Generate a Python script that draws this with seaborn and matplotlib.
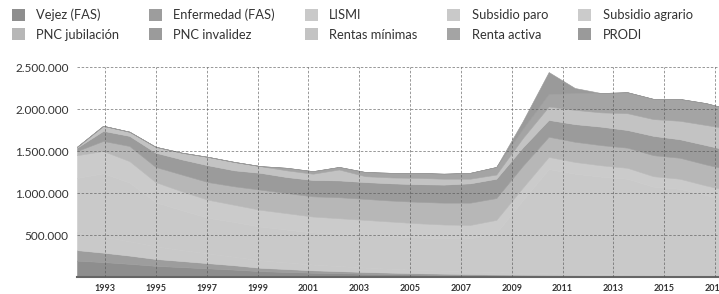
# Beneficiarios de prestaciones asistenciales 1992-2017 (area apilada)
import numpy as np
import pandas as pd
import matplotlib
matplotlib.use("Agg")
import matplotlib.pyplot as plt
import seaborn as sns
from matplotlib.patches import Patch
from matplotlib.ticker import FuncFormatter

# --------------------------------------------
# Datos (miles de beneficiarios)
# --------------------------------------------
years = list(range(1992, 2018))

vejez_fas = [195, 178, 157, 133, 118, 103, 88, 70, 60, 51, 45, 39, 34, 29, 26, 23, 20, 18, 16, 14, 12, 11, 9, 8, 7, 6]
enfermedad_fas = [125, 112, 98, 82, 72, 62, 52, 40, 35, 29, 25, 21, 18, 16, 14, 12, 10, 9, 8, 7, 6, 5, 5, 4, 3, 3]
lismi = [210, 190, 170, 150, 130, 115, 100, 88, 78, 68, 60, 52, 45, 40, 35, 30, 27, 24, 21, 19, 17, 15, 13, 11, 10, 9]
subsidio_paro = [650, 755, 700, 525, 475, 425, 415, 402, 392, 382, 385, 388, 388, 385, 385, 395, 468, 859, 1240, 1190, 1160, 1139, 1048, 1027, 955, 892]
subsidio_agrario = [270, 265, 255, 240, 225, 215, 205, 200, 195, 190, 185, 180, 175, 170, 165, 160, 155, 150, 145, 140, 135, 130, 125, 120, 115, 110]
pnc_jubilacion = [50, 120, 180, 180, 200, 210, 220, 240, 240, 240, 250, 250, 250, 255, 260, 265, 260, 260, 240, 240, 240, 240, 250, 250, 250, 250]
pnc_invalidez = [40, 120, 120, 170, 180, 200, 190, 200, 190, 195, 200, 200, 205, 210, 215, 230, 230, 220, 200, 210, 220, 210, 230, 220, 230, 230]
rentas_minimas = [10, 60, 50, 70, 80, 100, 100, 80, 80, 75, 130, 70, 70, 75, 70, 55, 50, 110, 160, 170, 170, 200, 200, 220, 240, 260]
renta_activa = [0, 0, 0, 0, 0, 0, 0, 0, 30, 30, 30, 50, 55, 60, 60, 70, 90, 110, 150, 200, 230, 250, 240, 260, 260, 230]
prodi = [0, 0, 0, 0, 0, 0, 0, 0, 0, 0, 0, 0, 0, 0, 0, 0, 0, 90, 260, 60, 0, 0, 0, 0, 0, 0]

labels = ["Vejez (FAS)", "Enfermedad (FAS)", "LISMI", "Subsidio paro", "Subsidio agrario",
          "PNC jubilación", "PNC invalidez", "Rentas mínimas", "Renta activa", "PRODI"]

tick_years = list(range(1993, 2019, 2))

df = pd.DataFrame({
    labels[0]: vejez_fas,
    labels[1]: enfermedad_fas,
    labels[2]: lismi,
    labels[3]: subsidio_paro,
    labels[4]: subsidio_agrario,
    labels[5]: pnc_jubilacion,
    labels[6]: pnc_invalidez,
    labels[7]: rentas_minimas,
    labels[8]: renta_activa,
    labels[9]: prodi,
}, index=years) * 1000

# grises del escaneo
colors = ["#8e8e8e", "#9d9d9d", "#c9c9c9", "#c9c9c9", "#cbcbcb",
          "#b7b7b7", "#9b9b9b", "#c3c3c3", "#a4a4a4", "#9a9a9a"]

# --------------------------------------------
# Figura
# --------------------------------------------
sns.set_theme(style="white")
plt.rcParams["font.family"] = ["Lato", "DejaVu Sans"]

fig = plt.figure(figsize=(7.19, 2.94), dpi=100)
ax = fig.add_axes([77 / 719, 17 / 294, 1 - 77 / 719, 210 / 294])

areas = ax.stackplot(df.index, [df[c].values for c in labels], colors=colors,
                     zorder=1)
# borde del mismo color para tapar las costuras blancas entre capas
for poly, c in zip(areas, colors):
    poly.set_edgecolor(c)
    poly.set_linewidth(0.4)

ax.set_xlim(1992, 2016.5)
ax.set_ylim(0, 2500000)

# las etiquetas del eje x no coinciden del todo con los puntos (como en el original)
tick_pos = [1993.07 + (t - 1993) * 0.97 for t in tick_years]
ax.set_xticks(tick_pos)
ax.set_xticklabels([str(t) for t in tick_years], fontsize=6.5, fontweight="bold",
                   color="#333333")
ax.set_yticks([500000, 1000000, 1500000, 2000000, 2500000])
ax.yaxis.set_major_formatter(FuncFormatter(lambda v, p: f"{int(v):,}".replace(",", ".")))
ax.tick_params(axis="y", labelsize=8.5, colors="#333333", length=0, pad=6)
ax.tick_params(axis="x", length=0, pad=5)

ax.grid(True, color="#555555", linestyle=(0, (3, 2)), linewidth=0.6, alpha=0.7)
ax.set_axisbelow(False)
for side in ["top", "right", "left"]:
    ax.spines[side].set_visible(False)
ax.spines["bottom"].set_color("#666666")
ax.spines["bottom"].set_linewidth(1.5)

# leyenda en 2 filas x 5 columnas (orden por filas)
handles = [Patch(facecolor=c, edgecolor="none") for c in colors]
order = [0, 5, 1, 6, 2, 7, 3, 8, 4, 9]
fig.legend([handles[i] for i in order], [labels[i] for i in order],
           ncol=5, loc="upper left", bbox_to_anchor=(0.0, 1.01),
           frameon=False, fontsize=9.3, handlelength=1.0, handleheight=1.0,
           handletextpad=0.9, columnspacing=2.3, labelspacing=0.55,
           labelcolor="#333333")

fig.savefig("out.png", dpi=100)
